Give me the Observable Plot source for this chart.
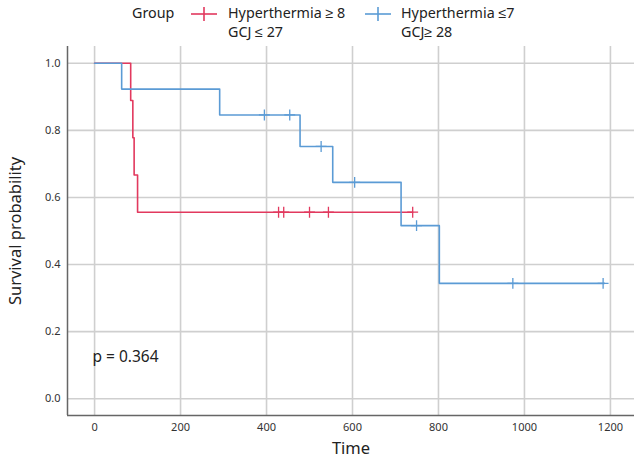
<!DOCTYPE html>
<html><head><meta charset="utf-8">
<script src="https://cdn.jsdelivr.net/npm/d3@7"></script>
<script src="https://cdn.jsdelivr.net/npm/@observablehq/plot@0.6"></script>
<style>
body{margin:0;background:#fff;font-family:"Noto Sans",sans-serif}
#wrap{position:relative;width:640px;height:459px;overflow:hidden}
.lg{position:absolute;font-size:14.3px;color:#222;line-height:19px;height:19px;white-space:nowrap}
#chart{position:absolute;left:0;top:44px}
</style></head><body>
<div id="wrap"><div id="legend"></div><div id="chart"></div></div>
<script>
// Group labels and colours
const groupNames = ["Hyperthermia ≥ 8\nGCJ ≤ 27", "Hyperthermia ≤7\nGCJ≥ 28"];
const groupColors = ["#e2395e", "#5b9bd5"];

// Kaplan-Meier step curves (time, survival)
const redTimes = [0, 84, 89, 92, 100, 740];
const redSurv  = [1, 0.889, 0.778, 0.667, 0.556, 0.556];
const blueTimes = [0, 63, 291, 478, 554, 713, 802, 1186];
const blueSurv  = [1, 0.923, 0.846, 0.752, 0.645, 0.516, 0.344, 0.344];

// Censored observations
const redCensorTimes = [428, 440, 500, 544, 740];
const redCensorSurv  = [0.556, 0.556, 0.556, 0.556, 0.556];
const blueCensorTimes = [395, 454, 527, 605, 749, 973, 1183];
const blueCensorSurv  = [0.846, 0.846, 0.752, 0.645, 0.516, 0.344, 0.344];

const xTicks = [0, 200, 400, 600, 800, 1000, 1200];
const yTicks = [0, 0.2, 0.4, 0.6, 0.8, 1.0];
const pLabel = "p = 0.364";

const curves = [
  ...redTimes.map((t, i) => ({t, s: redSurv[i], g: groupNames[0]})),
  ...blueTimes.map((t, i) => ({t, s: blueSurv[i], g: groupNames[1]}))
];
const censors = [
  ...redCensorTimes.map((t, i) => ({t, s: redCensorSurv[i], g: groupNames[0]})),
  ...blueCensorTimes.map((t, i) => ({t, s: blueCensorSurv[i], g: groupNames[1]}))
];

const xDom = [-63, 1256], yDom = [-0.05, 1.05];
const font = '"Noto Sans", sans-serif';

const chart = Plot.plot({
  width: 640, height: 415,
  marginLeft: 67, marginRight: 6, marginTop: 2, marginBottom: 44,
  style: {fontFamily: font, background: "#fff", overflow: "visible"},
  x: {domain: xDom},
  y: {domain: yDom},
  color: {domain: groupNames, range: groupColors},
  marks: [
    Plot.ruleX(xTicks, {stroke: "#cfcfcf", strokeWidth: 1.6, strokeOpacity: 1}),
    Plot.ruleY(yTicks, {stroke: "#cfcfcf", strokeWidth: 1.6, strokeOpacity: 1}),
    Plot.ruleX([xDom[0]], {stroke: "#666", strokeWidth: 1.5}),
    Plot.ruleY([yDom[0]], {stroke: "#666", strokeWidth: 1.5}),
    Plot.line(curves, {x: "t", y: "s", z: "g", stroke: "g", curve: "step-after", strokeWidth: 1.6}),
    Plot.dot(censors, {x: "t", y: "s", stroke: "g", symbol: "plus", r: 3.6, strokeWidth: 1.3}),
    Plot.text([pLabel], {x: -5, y: 0.125, text: d => d, textAnchor: "start", fontSize: 15.5, fill: "#222"}),
    Plot.axisX({ticks: xTicks, tickSize: 0, tickPadding: 8, fontSize: 11, fill: "#333", label: null, tickFormat: d3.format("d")}),
    Plot.axisY({ticks: yTicks, tickSize: 0, tickPadding: 7, fontSize: 11, fill: "#333", label: null, tickFormat: d3.format(".1f")}),
    Plot.axisX({ticks: [], label: "Time", labelAnchor: "center", labelOffset: 38, fontSize: 16.5, fill: "#222", labelArrow: "none"}),
    Plot.axisY({ticks: [], label: "Survival probability", labelAnchor: "center", labelOffset: 58, fontSize: 16.5, fill: "#222", labelArrow: "none"})
  ]
});
document.getElementById("chart").appendChild(chart);

// Legend
const lg = document.getElementById("legend");
function addText(txt, left, top) {
  txt.split("\n").forEach((line, j) => {
    const d = document.createElement("div");
    d.className = "lg"; d.style.left = left + "px"; d.style.top = (top + j * 19) + "px";
    d.textContent = line;
    lg.appendChild(d);
  });
}
addText("Group", 132, 3);
const symX = [190, 364], txtX = [228, 401];
groupNames.forEach((name, i) => {
  const s = document.createElementNS("http://www.w3.org/2000/svg", "svg");
  s.setAttribute("width", 28); s.setAttribute("height", 16);
  s.style.position = "absolute"; s.style.left = symX[i] + "px"; s.style.top = "6px";
  s.innerHTML = `<line x1="1" y1="8" x2="27" y2="8" stroke="${groupColors[i]}" stroke-width="1.6"/>` +
                `<line x1="14" y1="1" x2="14" y2="15" stroke="${groupColors[i]}" stroke-width="1.6"/>`;
  lg.appendChild(s);
  addText(name, txtX[i], 3);
});
</script>
</body></html>
